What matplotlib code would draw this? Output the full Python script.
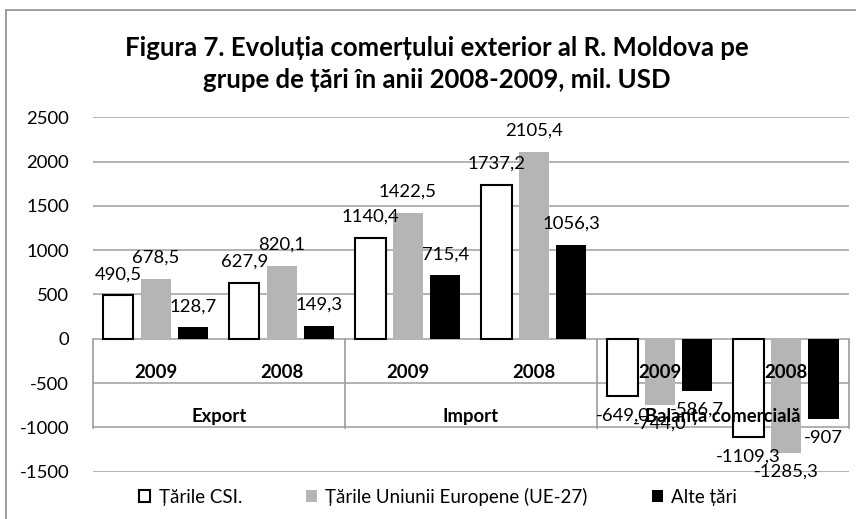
import matplotlib
matplotlib.use("Agg")
import matplotlib.pyplot as plt
import numpy as np
from matplotlib.patches import Rectangle

groups = ["Export", "Import", "Balanța comercială"]
years = ["2009", "2008", "2009", "2008", "2009", "2008"]
series_names = ["Țările CSI.", "Țările Uniunii Europene (UE-27)", "Alte țări"]
csi = [490.5, 627.9, 1140.4, 1737.2, -649.0, -1109.3]
ue = [678.5, 820.1, 1422.5, 2105.4, -744.0, -1285.3]
alte = [128.7, 149.3, 715.4, 1056.3, -586.7, -907]
labels_csi = ["490,5", "627,9", "1140,4", "1737,2", "-649,0", "-1109,3"]
labels_ue = ["678,5", "820,1", "1422,5", "2105,4", "-744,0", "-1285,3"]
labels_alte = ["128,7", "149,3", "715,4", "1056,3", "-586,7", "-907"]
yticks = [-1500, -1000, -500, 0, 500, 1000, 1500, 2000, 2500]

FONT = ["Lato", "DejaVu Sans"]
plt.rcParams["font.family"] = FONT

fig = plt.figure(figsize=(8.56, 5.19), dpi=100)
ax = fig.add_axes([92.7 / 856, 1 - 471.7 / 519, (849 - 92.7) / 856, (471.7 - 117.3) / 519])

# chart border
fig.patches.append(Rectangle((6 / 856, -0.05), 1.2, 1 - 10 / 519 + 0.05, transform=fig.transFigure,
                             fill=False, edgecolor="#8c8c8c", linewidth=1.2))

x = np.arange(len(years))
w = 0.24
off = 0.297
series = [(csi, labels_csi, "white", "black", 1.5),
          (ue, labels_ue, "#B4B5B7", "#B4B5B7", 0),
          (alte, labels_alte, "black", "black", 0)]
for i, (vals, labs, fc, ec, lw) in enumerate(series):
    xs = x + (i - 1) * off
    ax.bar(xs, vals, width=w, color=fc, edgecolor=ec, linewidth=lw, zorder=3,
           label=series_names[i])
    for xi, v, lab in zip(xs, vals, labs):
        if v >= 0:
            ax.annotate(lab, (xi, v), xytext=(0, 9.5), textcoords="offset points",
                        ha="center", va="bottom", fontsize=13.3, zorder=5)
        else:
            ax.annotate(lab, (xi, v), xytext=(0, -8), textcoords="offset points",
                        ha="center", va="top", fontsize=13.3, zorder=5)

ax.set_xlim(-0.5, len(years) - 0.5)
ax.set_ylim(-1500, 2500)
ax.set_yticks(yticks)
ax.set_yticklabels([str(t) for t in yticks], fontsize=13.3)
ax.tick_params(axis="y", length=0, pad=17)
ax.set_xticks([])
ax.grid(axis="y", color="#A3A8A3", linewidth=1.2, zorder=0)
for s in ax.spines.values():
    s.set_visible(False)

# multi-level category axis
for b in [-0.5, 1.5, 3.5, 5.5]:
    ax.plot([b, b], [0, -1010], color="#9A9E9A", linewidth=1.2, clip_on=False, zorder=4)
for xi, yr in zip(x, years):
    ax.text(xi, -375, yr, ha="center", va="center", fontsize=13.3, fontweight="bold", zorder=6)
for gi, g in enumerate(groups):
    ax.text(2 * gi + 0.5, -875, g, ha="center", va="center", fontsize=13.3, fontweight="bold", zorder=6)

fig.text(437 / 856, 1 - 64.5 / 519, "Figura 7. Evoluția comerțului exterior al R. Moldova pe\ngrupe de țări în anii 2008-2009, mil. USD",
         ha="center", va="center", fontsize=18.5, fontweight="bold", linespacing=1.4)

leg = fig.legend(loc="center", bbox_to_anchor=(438 / 856, 1 - 497 / 519), ncol=3, frameon=False,
                 fontsize=13.5, handlelength=0.6, handleheight=0.6, handletextpad=0.45,
                 columnspacing=3.4)
fig.savefig("out.png", dpi=100)
